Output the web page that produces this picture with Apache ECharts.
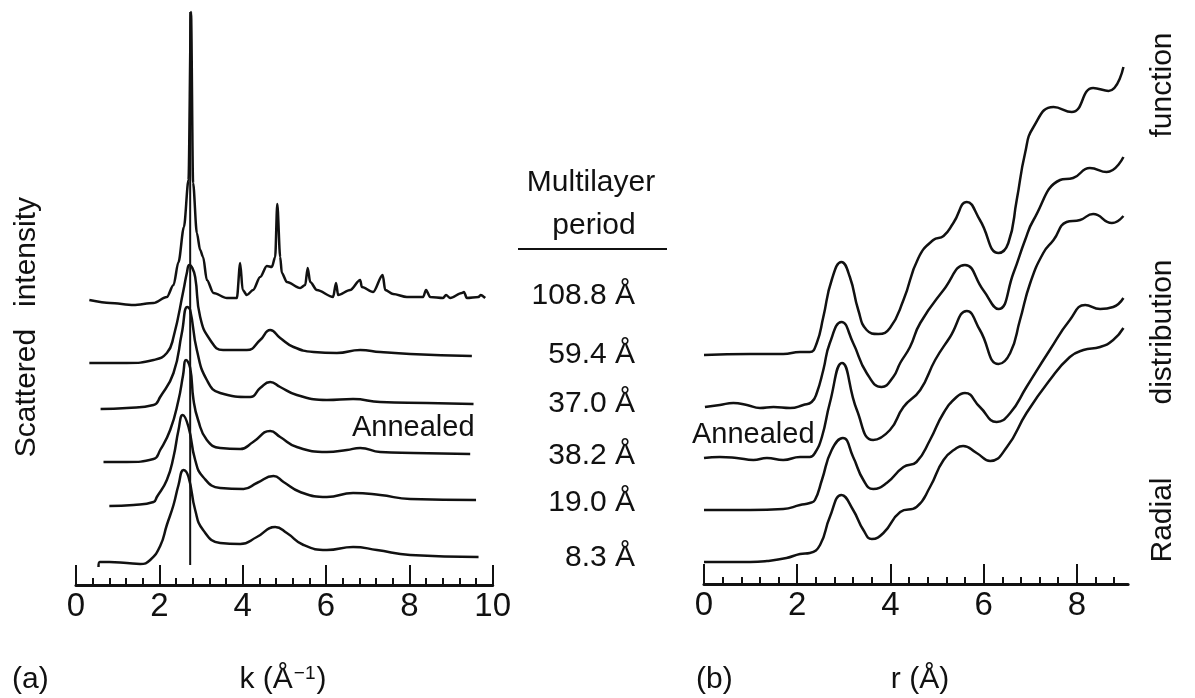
<!DOCTYPE html>
<html>
<head>
<meta charset="utf-8">
<script src="https://cdn.jsdelivr.net/npm/echarts@6/dist/echarts.min.js"></script>
<style>
  html, body { margin: 0; padding: 0; background: #fff; }
  #chart { width: 1195px; height: 698px; }
</style>
</head>
<body>
<div id="chart"></div>
<script>
// (a) scattered intensity vs k, curves offset vertically (arbitrary units)
const k108 = [[0.32,28.5],[0.82,28.2],[1.38,28.0],[1.86,28.2],[2.18,28.8],[2.34,30.0],[2.46,32.3],[2.59,35.8],[2.70,40.5],[2.76,57.3],[2.81,40.2],[2.90,35.2],[2.98,33.5],[3.05,32.8],[3.14,30.5],[3.30,29.2],[3.62,28.7],[3.86,28.7],[3.94,32.2],[4.00,29.5],[4.10,29.0],[4.25,29.5],[4.42,30.8],[4.58,31.9],[4.70,31.8],[4.78,32.8],[4.83,38.1],[4.90,32.8],[4.94,31.2],[5.06,30.3],[5.38,29.7],[5.50,30.0],[5.56,31.7],[5.62,30.3],[5.78,29.5],[6.17,28.8],[6.24,30.2],[6.29,29.0],[6.58,29.5],[6.82,30.5],[6.86,29.8],[7.13,29.3],[7.36,31.0],[7.42,29.5],[7.61,29.1],[7.94,28.8],[8.33,28.8],[8.40,29.5],[8.50,28.8],[8.81,28.7],[8.88,29.0],[8.98,28.7],[9.26,29.2],[9.31,29.3],[9.38,28.7],[9.66,28.8],[9.71,29.0],[9.82,28.7]];
const k59 = [[0.32,22.2],[1.22,22.2],[1.86,22.5],[2.18,23.2],[2.34,24.8],[2.58,29.5],[2.66,31.2],[2.72,32.0],[2.78,31.8],[2.86,30.8],[2.98,26.8],[3.22,24.5],[3.53,23.5],[4.10,23.5],[4.42,24.5],[4.66,25.5],[4.90,24.7],[5.22,23.8],[5.70,23.3],[6.26,23.2],[6.82,23.5],[7.30,23.3],[8.02,23.1],[9.50,22.9]];
const k37 = [[0.59,17.6],[1.22,17.7],[1.86,18.0],[2.02,18.8],[2.34,21.2],[2.54,25.2],[2.67,27.8],[2.74,27.5],[2.90,23.5],[3.14,20.5],[3.46,19.2],[4.18,18.8],[4.42,19.7],[4.66,20.3],[4.90,19.8],[5.30,19.0],[6.02,18.5],[6.65,18.6],[7.30,18.3],[8.42,18.2],[9.54,18.1]];
const k38 = [[0.66,12.3],[1.22,12.3],[1.86,12.6],[2.02,13.5],[2.26,15.5],[2.46,18.5],[2.57,21.0],[2.64,22.5],[2.74,21.7],[2.82,18.5],[2.93,16.5],[3.14,14.5],[3.46,13.7],[3.94,13.6],[4.25,14.3],[4.66,15.4],[4.90,14.8],[5.30,13.8],[6.02,13.3],[6.50,13.5],[6.82,13.7],[7.30,13.3],[8.10,13.2],[9.46,13.1]];
const k19 = [[0.80,7.9],[1.38,8.0],[1.86,8.3],[1.94,8.8],[2.18,10.5],[2.34,12.8],[2.46,15.5],[2.56,17.0],[2.70,15.8],[2.86,12.5],[3.05,10.8],[3.46,9.7],[4.02,9.6],[4.34,10.2],[4.74,10.9],[4.98,10.3],[5.38,9.3],[6.02,8.8],[6.65,9.2],[7.30,9.0],[8.02,8.6],[9.60,8.5]];
const k8 = [[0.54,1.8],[0.57,2.3],[0.80,2.3],[1.22,2.2],[1.54,2.1],[1.78,2.5],[2.02,3.9],[2.18,6.0],[2.34,8.0],[2.46,10.0],[2.58,11.5],[2.70,10.8],[2.86,7.5],[3.05,5.5],[3.46,4.2],[3.94,4.1],[4.34,4.8],[4.78,5.8],[5.06,5.2],[5.46,4.0],[6.02,3.5],[6.65,3.8],[7.22,3.5],[8.02,3.0],[9.66,2.8]];
const kLine = [[2.74,2.0],[2.74,57.3]];

// (b) radial distribution function vs r
const r108 = [[0.00,22.9],[0.99,23.0],[1.70,23.0],[2.06,23.2],[2.27,23.2],[2.42,24.1],[2.56,26.7],[2.74,30.4],[2.95,32.2],[3.13,30.7],[3.31,27.4],[3.49,25.4],[3.74,25.0],[3.99,25.6],[4.28,28.4],[4.60,32.6],[4.92,34.4],[5.14,34.8],[5.35,36.1],[5.64,38.2],[5.92,36.4],[6.32,33.1],[6.53,34.1],[6.71,38.4],[6.89,43.1],[7.07,45.7],[7.50,47.7],[7.89,47.2],[8.35,49.6],[8.68,49.3],[9.00,51.7]];
const r59 = [[0.02,17.7],[0.34,17.9],[0.63,18.1],[0.92,17.9],[1.20,17.6],[1.49,17.7],[1.85,17.6],[2.13,17.9],[2.31,18.2],[2.42,19.1],[2.56,21.4],[2.70,24.1],[2.95,26.2],[3.20,24.1],[3.49,21.1],[3.81,19.7],[4.06,20.7],[4.21,22.1],[4.42,23.7],[4.64,26.1],[5.14,29.4],[5.60,31.9],[5.99,29.4],[6.32,27.5],[6.64,31.1],[6.89,34.4],[7.07,36.4],[7.64,40.4],[7.92,40.6],[8.28,41.6],[8.64,41.2],[9.00,42.7]];
const r37 = [[0.00,12.6],[0.34,12.7],[0.70,12.6],[1.06,12.4],[1.35,12.6],[1.70,12.4],[2.06,12.7],[2.27,12.7],[2.38,13.1],[2.53,14.7],[2.70,18.1],[2.96,22.1],[3.28,17.4],[3.63,14.4],[3.99,15.4],[4.28,17.7],[4.64,19.4],[4.96,22.4],[5.28,24.7],[5.64,27.3],[5.92,25.4],[6.32,22.0],[6.57,23.1],[6.78,26.4],[7.00,30.1],[7.28,33.1],[7.50,34.4],[7.78,36.2],[8.07,36.4],[8.35,37.0],[8.75,36.1],[9.00,36.8]];
const r38 = [[0.00,7.4],[0.99,7.4],[1.70,7.5],[2.06,7.9],[2.27,8.1],[2.38,8.4],[2.53,10.4],[2.74,13.4],[2.98,14.6],[3.20,12.7],[3.42,10.4],[3.63,9.5],[3.92,10.1],[4.28,11.7],[4.56,12.2],[4.85,14.4],[5.14,17.1],[5.42,18.7],[5.60,19.1],[5.92,17.7],[6.28,16.2],[6.57,17.1],[6.92,19.7],[7.42,23.4],[7.85,26.4],[8.18,27.9],[8.50,27.5],[8.78,27.7],[9.00,28.6]];
const r19 = [[0.00,2.2],[0.99,2.2],[1.35,2.3],[1.77,2.6],[2.06,3.0],[2.27,3.1],[2.49,3.9],[2.70,6.7],[2.95,8.9],[3.20,7.4],[3.42,5.4],[3.60,4.5],[3.85,5.1],[4.21,7.2],[4.56,7.7],[4.85,9.7],[5.14,12.4],[5.42,13.6],[5.56,13.8],[5.85,13.1],[6.14,12.3],[6.50,13.7],[6.92,17.1],[7.42,20.4],[7.85,22.7],[8.14,23.4],[8.50,23.7],[8.78,24.4],[9.00,25.6]];

const kTicks = [0, 2, 4, 6, 8, 10];
const rTicks = [0, 2, 4, 6, 8];
const periods = ['108.8 Å', '59.4 Å', '37.0 Å', '38.2 Å', '19.0 Å', '8.3 Å'];

const FONT = '"Liberation Sans", Arial, Helvetica, sans-serif';
const INK = '#111';

function minorTicks(max) {
    const out = [];
    for (let i = 1; i * 0.4 <= max + 1e-6; i++) {
        if (i % 5 !== 0) out.push(+(i * 0.4).toFixed(1));
    }
    return out;
}

function majorAxis(grid, max, ticks) {
    return {
        type: 'value', gridIndex: grid, min: 0, max: max, position: 'bottom',
        axisLine: { lineStyle: { color: INK, width: 3 } },
        axisTick: { inside: true, length: 20, customValues: ticks, lineStyle: { color: INK, width: 2 } },
        axisLabel: { customValues: ticks, margin: 5, color: INK, fontSize: 33, fontFamily: FONT },
        splitLine: { show: false }
    };
}

function minorAxis(grid, max) {
    return {
        type: 'value', gridIndex: grid, min: 0, max: max, position: 'bottom',
        axisLine: { show: false },
        axisTick: { inside: true, length: 7, customValues: minorTicks(max), lineStyle: { color: INK, width: 2 } },
        axisLabel: { show: false },
        splitLine: { show: false }
    };
}

// spiky curve keeps monotone smoothing so narrow peaks do not overshoot
function curve(data, xi, yi, spiky) {
    const s = {
        type: 'line', data: data, xAxisIndex: xi, yAxisIndex: yi,
        symbol: 'none', smooth: spiky ? 0.3 : 0.5, silent: true,
        lineStyle: { color: INK, width: 2.5 }
    };
    if (spiky) s.smoothMonotone = 'x';
    return s;
}

function txt(text, x, y, align, size, rot) {
    return {
        type: 'text', x: x, y: y, rotation: rot || 0, silent: true,
        style: { text: text, fill: INK, font: (size || 30) + 'px ' + FONT, align: align || 'left', verticalAlign: 'middle' }
    };
}

const periodY = [296, 355, 404, 456, 503, 558];

const graphics = [
    txt('Multilayer', 591, 183, 'center'),
    txt('period', 594, 226, 'center'),
    { type: 'line', silent: true, shape: { x1: 518, y1: 249, x2: 667, y2: 249 }, style: { stroke: INK, lineWidth: 2 } },
    txt('Annealed', 352, 428, 'left', 29),
    txt('Annealed', 692, 435, 'left', 29),
    txt('Scattered', 27, 393, 'center', 30, Math.PI / 2),
    txt('intensity', 27, 252, 'center', 30, Math.PI / 2),
    txt('Radial', 1163, 520, 'center', 30, Math.PI / 2),
    txt('distribution', 1163, 332, 'center', 30, Math.PI / 2),
    txt('function', 1163, 85, 'center', 30, Math.PI / 2),
    txt('(a)', 12, 680, 'left', 30),
    txt('(b)', 696, 680, 'left', 30),
    txt('r (Å)', 920, 680, 'center', 30),
    {
        type: 'text', x: 283, y: 680, silent: true,
        style: {
            text: '{a|k (Å}{s|−1}{a|)}',
            align: 'center', verticalAlign: 'middle',
            rich: {
                a: { fontSize: 30, fontFamily: FONT, fill: INK, color: INK },
                s: { fontSize: 19, fontFamily: FONT, fill: INK, color: INK, verticalAlign: 'top', padding: [0, 1, 12, 1] }
            }
        }
    }
];
periods.forEach(function (p, i) { graphics.push(txt(p, 635, periodY[i], 'right', 30)); });

const chart = echarts.init(document.getElementById('chart'), null, { renderer: 'canvas' });
chart.setOption({
    backgroundColor: '#fff',
    animation: false,
    grid: [
        { left: 76, top: 5, width: 416.7, height: 580 },
        { left: 704, top: 4, width: 424.1, height: 580 }
    ],
    xAxis: [
        majorAxis(0, 10, kTicks),
        minorAxis(0, 10),
        majorAxis(1, 9.1, rTicks),
        minorAxis(1, 9.1)
    ],
    yAxis: [
        { type: 'value', gridIndex: 0, min: 0, max: 58, show: false },
        { type: 'value', gridIndex: 1, min: 0, max: 58, show: false }
    ],
    series: [
        curve(k108, 0, 0, true), curve(k59, 0, 0), curve(k37, 0, 0),
        curve(k38, 0, 0), curve(k19, 0, 0), curve(k8, 0, 0),
        { type: 'line', data: kLine, xAxisIndex: 0, yAxisIndex: 0, symbol: 'none', silent: true, lineStyle: { color: INK, width: 2 } },
        curve(r108, 2, 1), curve(r59, 2, 1), curve(r37, 2, 1),
        curve(r38, 2, 1), curve(r19, 2, 1)
    ],
    graphic: graphics
});
</script>
</body>
</html>
